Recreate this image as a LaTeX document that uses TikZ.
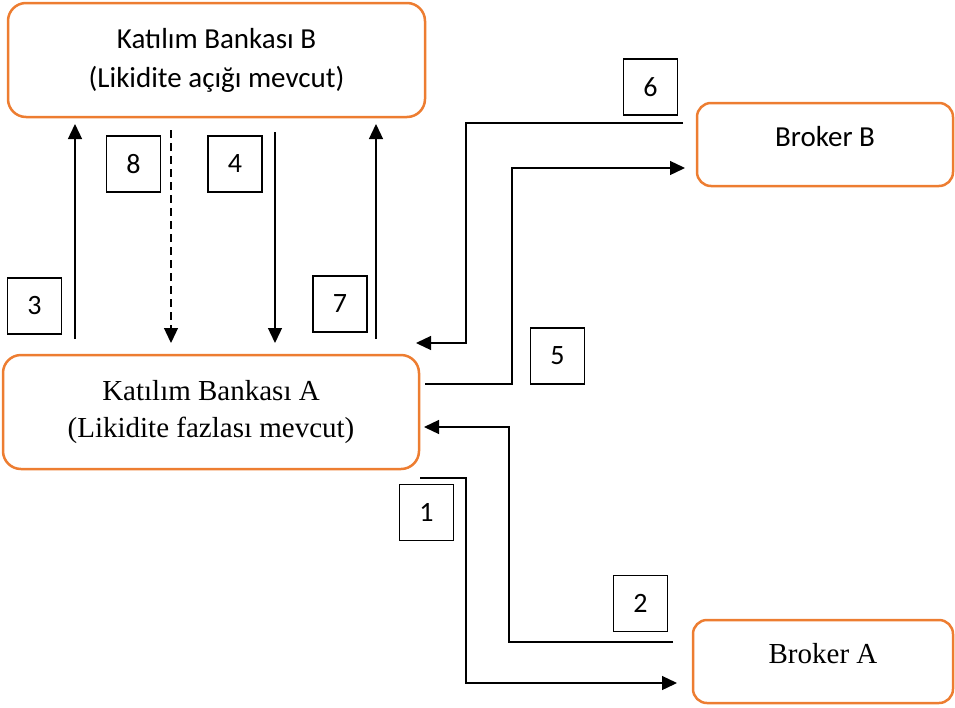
\documentclass[tikz,border=0pt]{standalone}
\usepackage{fontspec}
\setmainfont{Liberation Serif}
\newfontfamily\calibri{Carlito}
\usetikzlibrary{arrows.meta}
\definecolor{boxorange}{HTML}{ED7D31}
\tikzstyle{bank}=[shape=rectangle,draw=boxorange,line width=2.5pt,rounded corners=18pt,outer sep=0pt,minimum width=416pt,minimum height=114pt,align=center]
\tikzstyle{broker}=[shape=rectangle,draw=boxorange,line width=2.5pt,rounded corners=14pt,outer sep=0pt,minimum width=257pt,minimum height=83pt,text height=20pt,text depth=17pt]
\tikzstyle{num}=[shape=rectangle,draw,line width=1.2pt,minimum width=54pt,minimum height=56pt,font=\calibri\fontsize{28}{34}\selectfont]
\tikzstyle{to}=[-{Triangle[length=15pt,width=14pt]},line width=1.3pt]
\tikzstyle{dto}=[to,dash pattern=on 8pt off 5pt]

\begin{document}
\begin{tikzpicture}[x=1pt,y=-1pt]
        \useasboundingbox (0,0) rectangle (955,707);
        % banks and brokers
        \node[bank,minimum width=417pt,font=\calibri\fontsize{29}{39}\selectfont] (kbB) at (216.5,60)
            {Katılım Bankası B\\(Likidite açığı mevcut)};
        \node[bank,font=\fontsize{29}{37}\selectfont] (kbA) at (211,412)
            {Katılım Bankası A\\(Likidite fazlası mevcut)};
        \node[broker,minimum width=256pt,font=\calibri\fontsize{29}{35}\selectfont] (brB) at (825,144.5) {Broker B};
        \node[broker,minimum width=260pt,font=\fontsize{29}{35}\selectfont] (brA) at (823,661.5) {Broker A};
        % step numbers
        \node[num] (n1) at (426.5,512.5) {1};
        \node[num] (n2) at (640.5,603.5) {2};
        \node[num] (n3) at (34.5,306) {3};
        \node[num] (n4) at (235,164) {4};
        \node[num] (n5) at (557.5,356) {5};
        \node[num] (n6) at (650.5,87) {6};
        \node[num] (n7) at (340,304) {7};
        \node[num] (n8) at (133.5,164) {8};
        % between the banks
        \draw[to,shorten <=16pt,shorten >=7pt] ([xshift=72pt]kbA.north west) -- ([xshift=67pt]kbB.south west);
        \draw[dto,shorten <=13pt,shorten >=12pt] ([xshift=163pt]kbB.south west) -- ([xshift=168pt]kbA.north west);
        \draw[to,shorten <=15pt,shorten >=12pt] ([xshift=267pt]kbB.south west) -- ([xshift=272pt]kbA.north west);
        \draw[to,shorten <=16pt,shorten >=7pt] ([xshift=373pt]kbA.north west) -- ([xshift=368pt]kbB.south west);
        % via the brokers
        \draw[to,shorten <=14pt] ([yshift=21.5pt]brB.west) -| ([xshift=47pt,yshift=12pt]kbA.north east)
            -- ([xshift=-3pt,yshift=12pt]kbA.north east);
        \draw[to,shorten >=12pt] ([xshift=6pt,yshift=28pt]kbA.east) -| ([xshift=-185pt,yshift=-23.5pt]brB.west)
            -- ([yshift=-23.5pt]brB.west);
        \draw[to,shorten <=20pt,shorten >=5pt] ([yshift=19.5pt]brA.west) -| ([xshift=90pt,yshift=-15pt]kbA.east)
            -- ([yshift=-15pt]kbA.east);
        \draw[to,shorten >=16pt] ([xshift=1pt,yshift=-9pt]kbA.south east) -| ([xshift=-227pt,yshift=-21.5pt]brA.west)
            -- ([yshift=-21.5pt]brA.west);
    \end{tikzpicture}
\end{document}
